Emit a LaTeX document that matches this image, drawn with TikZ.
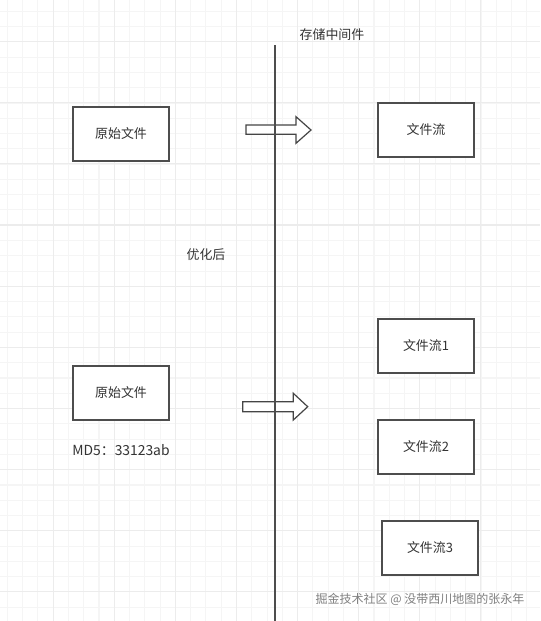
\documentclass[tikz,border=0pt]{standalone}
\usepackage{fontspec}
\setmainfont{Noto Sans CJK SC}
\usepackage{tikz}
\usepackage{xcolor}
\usetikzlibrary{positioning}
\definecolor{gridminor}{HTML}{F5F5F5}
\definecolor{gridmajor}{HTML}{ECECEC}
\definecolor{edge}{HTML}{4D4D4D}
\definecolor{txt}{HTML}{333333}

\begin{document}
\begin{tikzpicture}[x=0.75pt,y=-0.75pt,
  box/.style={draw=edge,line width=1.1pt,fill=white,minimum width=72pt,minimum height=40.5pt,inner sep=0pt,text=txt,font=\fontsize{9.7}{11}\selectfont},
  lbl/.style={text=txt,inner sep=0pt,font=\fontsize{9.7}{11}\selectfont},
  blockarr/.style={draw=edge!90!black,line width=0.9pt,fill=white,line join=miter}]
\useasboundingbox (0,0) rectangle (540,621);
\fill[white] (0,0) rectangle (540,621);
\foreach \i in {0,...,35} \draw[gridminor,line width=0.8pt] ({7.3+15.28*\i},0)--++(0,621);
\foreach \i in {0,...,40} \draw[gridminor,line width=0.8pt] (0,{11.3+15.28*\i})--++(540,0);
\foreach \i in {0,...,8} \draw[gridmajor,line width=0.8pt] ({53.1+61.1*\i},0)--++(0,621);
\foreach \i in {0,...,9} \draw[gridmajor,line width=0.8pt] (0,{41.7+61.1*\i})--++(540,0);

\node[lbl] (mid) at (332,35) {存储中间件};
\node[lbl] (opt) at (206,254.5) {优化后};

\node[box] (src1) at (121,134) {原始文件};
\node[box] (flow) at (426,130) {文件流};

\node[box] (src2) at (121,393) {原始文件};
\node[lbl,font=\fontsize{10.4}{12}\selectfont,below=17.5pt of src2.south] (md5) {MD5：33123ab};
\node[box] (flow1) at (426,346) {文件流1};
\node[box] (flow2) at (426,447) {文件流2};
\node[box] (flow3) at (430,548) {文件流3};

\draw[blockarr] (246,125)--(296,125)--(296,116.7)--(311,130)--(296,143.3)--(296,134.3)--(246,134.3)--cycle;
\draw[blockarr] (242.7,401.7)--(293.3,401.7)--(293.3,393.3)--(307.7,406.7)--(293.3,420)--(293.3,411.7)--(242.7,411.7)--cycle;

\coordinate (top) at (275,45);
\coordinate (bot) at (275,621);
\draw[edge,line width=1.1pt] (top)--(bot);

\node[text=black!50,inner sep=0pt,font=\fontsize{9}{10}\selectfont] (mark) at (420,599.5) {掘金技术社区 @ 没带西川地图的张永年};
\end{tikzpicture}
\end{document}
